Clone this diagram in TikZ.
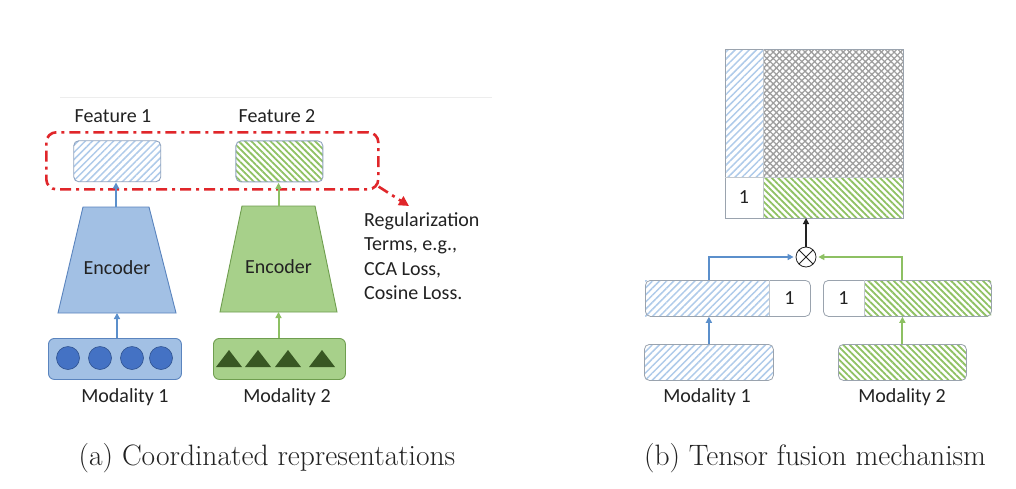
\documentclass[tikz,border=0pt]{standalone}
\usepackage{fontspec}
\newfontfamily\dia{Carlito}
\usetikzlibrary{patterns.meta,shapes.geometric,arrows.meta}
\definecolor{hblue}{HTML}{AFCBEA}
\definecolor{hgreen}{HTML}{8FC163}
\definecolor{encblue}{HTML}{A2C0E4}
\definecolor{encblueD}{HTML}{5A84BE}
\definecolor{encgreen}{HTML}{A7D08A}
\definecolor{encgreenD}{HTML}{6F9E4F}
\definecolor{dotblue}{HTML}{4472C4}
\definecolor{dotblueD}{HTML}{2F528F}
\definecolor{trigreen}{HTML}{385723}
\definecolor{regred}{HTML}{E0262A}
\definecolor{arrblue}{HTML}{5B8FCB}
\definecolor{arrgreen}{HTML}{8DC063}
\definecolor{boxgrey}{HTML}{9AA3AE}
\definecolor{featborder}{HTML}{8FA3BF}
\definecolor{txt}{HTML}{222222}
\tikzset{
  bluehatch/.style={pattern={Lines[angle=45,distance=5pt,line width=1.5pt]},pattern color=hblue},
  greenhatch/.style={pattern={Lines[angle=-45,distance=4.5pt,line width=1.8pt]},pattern color=hgreen},
  crosshatch/.style={preaction={pattern={Lines[angle=45,distance=4.5pt,line width=1.3pt]},pattern color=black!38},
                     pattern={Lines[angle=-45,distance=4.5pt,line width=1.3pt]},pattern color=black!38},
  cell/.style={anchor=north west,inner sep=0pt,outer sep=0pt,text=txt,font=\dia\fontsize{20}{24}\selectfont},
  featbox/.style={draw=featborder,line width=0.9pt,rounded corners=5pt,anchor=north west,inner sep=0pt},
  rbox/.style={draw=boxgrey,line width=0.8pt,rounded corners=5pt,anchor=north west,inner sep=0pt},
  lab/.style={text=txt,font=\dia\fontsize{20}{24}\selectfont,inner sep=0pt},
  arr/.style={line width=2pt,-{Triangle[length=6pt,width=6pt]}},
}
\begin{document}
\begin{tikzpicture}[x=1pt,y=-1pt]
\useasboundingbox[fill=white] (0,0) rectangle (1016,488);
% ---------- (a) ----------
\draw[black!7,line width=1pt] (60,97) -- (492,97);
\node[lab] (t1) at (113,116) {Feature 1};
\node[lab] (t2) at (277,116) {Feature 2};
\node[featbox,bluehatch,minimum width=87pt,minimum height=41pt] (f1) at (73,140) {};
\node[featbox,greenhatch,minimum width=87pt,minimum height=41pt] (f2) at (235,140) {};
\node[draw=regred,line width=2.6pt,dash pattern=on 11pt off 5pt on 3pt off 5pt,rounded corners=10pt,
      minimum width=332pt,minimum height=57pt,anchor=north west,inner sep=0pt] (reg) at (45,131) {};
\coordinate (regtip) at (409,206);
\draw[regred,line width=2.6pt,dash pattern=on 11pt off 5pt on 3pt off 5pt,-{Triangle[length=10pt,width=10pt]}]
  ([shift={(-1pt,4pt)}]reg.south east) -- (regtip);
\node[lab,align=left,anchor=north west,font=\dia\fontsize{20}{24.5}\selectfont] (regtxt) at (364,212)
  {Regularization\\Terms, e.g.,\\CCA Loss,\\Cosine Loss.};
% encoders (trapezoids)
\coordinate (e1n) at (116,207);
\coordinate (e1s) at (117,313);
\filldraw[fill=encblue,draw=encblueD,line width=0.9pt] (58,313) -- (176,313) -- (149,207) -- (83,207) -- cycle;
\node[lab] (e1) at (117,268) {Encoder};
\coordinate (e2n) at (278.5,206);
\coordinate (e2s) at (278.5,312);
\filldraw[fill=encgreen,draw=encgreenD,line width=0.9pt] (220,312) -- (337,312) -- (315,206) -- (242,206) -- cycle;
\node[lab] (e2) at (278.5,267) {Encoder};
% modality inputs
\node[draw=encblueD,fill=encblue,line width=0.9pt,rounded corners=6pt,minimum width=133pt,minimum height=41pt,
      anchor=north west,inner sep=0pt] (m1) at (48,338) {};
\node[draw=encgreenD,fill=encgreen,line width=0.9pt,rounded corners=6pt,minimum width=132pt,minimum height=41pt,
      anchor=north west,inner sep=0pt] (m2) at (213,338) {};
\foreach \cx in {68,100,132,161}
  \filldraw[fill=dotblue,draw=dotblueD,line width=0.6pt] (\cx,358) circle (11.5pt);
\foreach \cx in {229,258,288,322}
  \fill[trigreen] (\cx-13,367) -- (\cx+13,367) -- (\cx,350) -- cycle;
\node[lab] (ml1) at (125,397) {Modality 1};
\node[lab] (ml2) at (287,397) {Modality 2};
\draw[arr,arrblue] (e1n) -- (e1n |- f1.south);
\draw[arr,arrgreen] (e2n) -- (e2n |- f2.south);
\draw[arr,arrblue] (m1.north -| e1s) -- (e1s);
\draw[arr,arrgreen] (m2.north -| e2s) -- (e2s);
% ---------- (b) ----------
\node[cell,bluehatch,minimum width=38pt,minimum height=128pt] (mb) at (725,49) {};
\node[cell,crosshatch,minimum width=140pt,minimum height=128pt] (mx) at (763,49) {};
\node[cell,minimum width=38pt,minimum height=41pt] (mo) at (725,177) {1};
\node[cell,greenhatch,minimum width=140pt,minimum height=41pt] (mg) at (763,177) {};
\draw[boxgrey,line width=0.8pt] (mb.north west) rectangle (mg.south east);
\draw[boxgrey!60,line width=0.6pt] (mb.north east) -- (mo.south east) (mo.north west) -- (mg.north east);
\node[draw=txt,line width=0.8pt,circle,minimum size=20pt,inner sep=0pt] (ot) at (806,257) {};
\draw[txt,line width=0.8pt] ([shift={(45:10pt)}]ot.center) -- ([shift={(225:10pt)}]ot.center)
  ([shift={(135:10pt)}]ot.center) -- ([shift={(-45:10pt)}]ot.center);
% vectors with 1
\node[cell,bluehatch,minimum width=124pt,minimum height=36pt] (v1h) at (645,280) {};
\node[cell,minimum width=41pt,minimum height=36pt] (v1o) at (769,280) {1};
\node[rbox,minimum width=165pt,minimum height=36pt] (v1) at (645,280) {};
\node[cell,minimum width=41pt,minimum height=36pt] (v2o) at (823,280) {1};
\node[cell,greenhatch,minimum width=127pt,minimum height=36pt] (v2h) at (864,280) {};
\node[rbox,minimum width=168pt,minimum height=36pt] (v2) at (823,280) {};
\draw[boxgrey!60,line width=0.6pt] (v1o.north west) -- (v1o.south west) (v2h.north west) -- (v2h.south west);
% bottom modality vectors
\node[rbox,bluehatch,minimum width=129pt,minimum height=36pt] (b1) at (644,344) {};
\node[rbox,greenhatch,minimum width=128pt,minimum height=36pt] (b2) at (838,344) {};
\node[lab] (ml3) at (707,397) {Modality 1};
\node[lab] (ml4) at (902,397) {Modality 2};
% connectors
\draw[arr,arrblue] (b1.north) -- (b1.north |- v1.south);
\draw[arr,arrgreen] (b2.north) -- (b2.north |- v2.south);
\draw[arr,arrblue] (b1.north |- v1.north) |- ([xshift=-2pt]ot.west);
\draw[arr,arrgreen] (b2.north |- v2.north) |- ([xshift=2pt]ot.east);
\draw[arr,txt,line width=1.2pt,-{Triangle[length=6pt,width=6pt]}] (ot.north) -- (ot.north |- mg.south);
% captions
\node[text=txt,font=\fontsize{29.5}{34}\selectfont,inner sep=0pt] (capa) at (267,458) {(a) Coordinated representations};
\node[text=txt,font=\fontsize{29.5}{34}\selectfont,inner sep=0pt] (capb) at (815,458) {(b) Tensor fusion mechanism};
\end{tikzpicture}
\end{document}
